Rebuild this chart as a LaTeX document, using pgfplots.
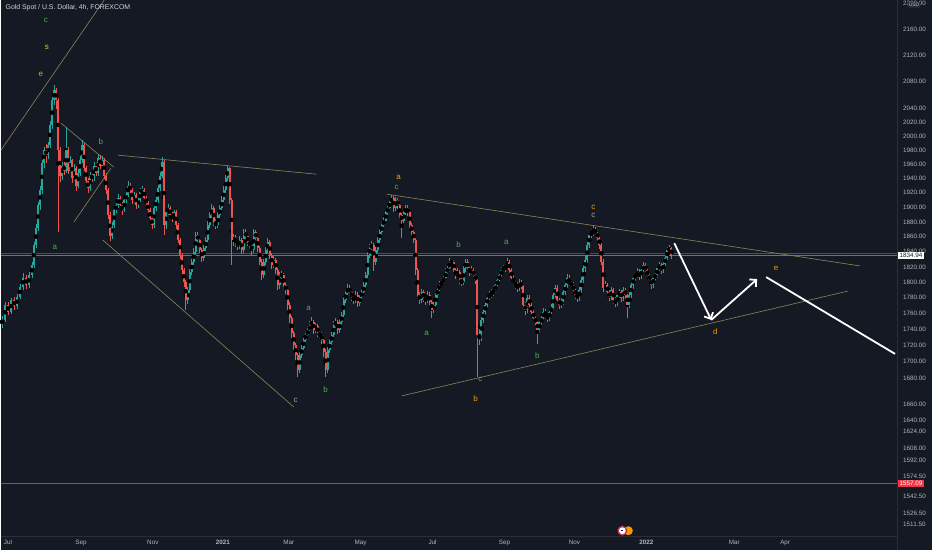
\documentclass[border=0pt]{standalone}
\usepackage{pgfplots}
\pgfplotsset{compat=1.18}
\usepackage{pgfplotstable}
\usepackage{fontspec}
\setmainfont{Liberation Sans}
\usetikzlibrary{arrows.meta}

\definecolor{bgc}{RGB}{21,25,36}
\definecolor{sepc}{RGB}{42,46,57}
\definecolor{txt}{RGB}{178,181,190}
\definecolor{upc}{RGB}{38,166,154}
\definecolor{dnc}{RGB}{239,83,80}
\definecolor{tl}{RGB}{140,132,92}
\definecolor{wgreen}{RGB}{76,175,80}
\definecolor{worange}{RGB}{255,152,0}
\definecolor{wgray}{RGB}{150,170,165}
\definecolor{wyel}{RGB}{200,210,60}
\definecolor{redline}{RGB}{190,55,75}
\definecolor{redbox}{RGB}{242,54,69}

% 4h candles, x in chart pixels
\pgfplotstableread{
x o h l c
0 1746 1757 1742 1752
3 1752 1775 1749 1771
6 1771 1774 1758 1762
9 1762 1780 1759 1777
12 1777 1781 1764 1769
15 1769 1785 1766 1781
18 1781 1798 1778 1794
21 1794 1812 1790 1806
24 1806 1809 1791 1796
27 1796 1813 1793 1809
30 1809 1826 1806 1822
32 1822 1853 1819 1849
34 1849 1877 1845 1872
36 1872 1908 1868 1903
38 1903 1930 1897 1924
40 1924 1966 1918 1961
42 1961 1985 1955 1980
44 1980 1988 1962 1973
46 1973 1992 1968 1987
48 1987 2022 1983 2016
50 2016 2058 2010 2052
52 2052 2075 2045 2067
54 2067 2070 2040 2052
56 2052 2055 1867 1980
58 1980 1985 1935 1944
60 1944 1963 1938 1958
62 1958 1966 1945 1951
64 1951 2013 1947 1980
66 1980 1984 1946 1951
68 1951 1972 1948 1966
70 1966 1968 1933 1940
72 1940 1960 1936 1954
74 1954 1957 1922 1930
76 1930 1953 1926 1948
78 1948 1971 1944 1966
80 1966 1994 1962 1987
82 1987 1990 1950 1954
84 1954 1958 1932 1937
86 1937 1941 1920 1926
88 1926 1949 1922 1944
90 1944 1950 1935 1940
92 1940 1963 1936 1958
94 1958 1962 1944 1948
96 1948 1974 1944 1969
98 1969 1973 1953 1958
100 1958 1972 1954 1966
102 1966 1969 1940 1944
104 1944 1947 1918 1924
106 1924 1927 1884 1889
108 1889 1893 1855 1861
110 1861 1880 1857 1876
112 1876 1900 1872 1896
114 1896 1908 1892 1903
116 1903 1918 1899 1913
118 1913 1916 1898 1903
120 1903 1907 1890 1896
122 1896 1914 1893 1910
124 1910 1922 1906 1917
126 1917 1936 1914 1930
128 1930 1934 1919 1924
130 1924 1927 1905 1910
132 1910 1921 1906 1917
134 1917 1920 1898 1903
136 1903 1915 1899 1910
138 1910 1927 1907 1921
140 1921 1930 1916 1924
142 1924 1927 1908 1913
144 1913 1916 1900 1906
146 1906 1909 1891 1896
148 1896 1899 1880 1885
150 1885 1888 1870 1876
152 1876 1903 1872 1899
154 1899 1914 1895 1910
156 1910 1931 1906 1926
158 1926 1949 1922 1944
160 1944 1970 1940 1963
162 1963 1966 1862 1876
164 1876 1897 1871 1893
166 1893 1904 1889 1899
168 1899 1902 1884 1889
170 1889 1893 1880 1885
172 1885 1897 1881 1893
174 1893 1896 1871 1876
176 1876 1879 1851 1856
178 1856 1859 1831 1836
180 1836 1839 1810 1816
182 1816 1819 1794 1800
184 1800 1803 1764 1777
186 1777 1794 1772 1790
188 1790 1817 1786 1813
190 1813 1831 1809 1827
192 1827 1845 1823 1840
194 1840 1867 1836 1862
196 1862 1866 1851 1856
198 1856 1859 1838 1842
200 1842 1845 1826 1832
202 1832 1849 1828 1845
204 1845 1860 1841 1856
206 1856 1881 1852 1876
208 1876 1894 1872 1889
210 1889 1904 1885 1899
212 1899 1902 1875 1880
214 1880 1884 1870 1876
216 1876 1893 1872 1889
218 1889 1903 1885 1899
220 1899 1915 1895 1910
222 1910 1929 1906 1924
224 1924 1945 1920 1940
226 1940 1958 1936 1954
228 1954 1956 1904 1910
230 1910 1913 1822 1856
232 1856 1864 1848 1858
234 1858 1862 1847 1853
236 1853 1857 1842 1848
238 1848 1861 1844 1856
240 1856 1859 1837 1842
242 1842 1870 1838 1866
244 1866 1870 1856 1861
246 1861 1864 1848 1853
248 1853 1857 1844 1849
250 1849 1852 1836 1842
252 1842 1871 1838 1866
254 1866 1869 1853 1858
256 1858 1861 1840 1845
258 1845 1848 1822 1827
260 1827 1830 1803 1809
262 1809 1831 1805 1827
264 1827 1846 1823 1842
266 1842 1858 1838 1853
268 1853 1856 1831 1836
270 1836 1839 1817 1822
272 1822 1834 1818 1829
274 1829 1832 1811 1816
276 1816 1819 1790 1796
278 1796 1813 1792 1809
280 1809 1815 1803 1809
282 1809 1812 1791 1796
284 1796 1800 1785 1790
286 1790 1793 1765 1771
288 1771 1774 1748 1754
290 1754 1757 1729 1735
292 1735 1738 1714 1720
294 1720 1723 1702 1708
296 1708 1711 1681 1690
298 1690 1712 1686 1708
300 1708 1721 1704 1717
302 1717 1731 1713 1727
304 1727 1738 1723 1733
306 1733 1744 1729 1739
308 1739 1750 1735 1745
310 1745 1755 1741 1749
312 1749 1752 1734 1739
314 1739 1748 1735 1744
316 1744 1747 1730 1735
318 1735 1739 1728 1733
320 1733 1736 1722 1727
322 1727 1730 1706 1712
324 1712 1715 1681 1690
326 1690 1718 1686 1714
328 1714 1728 1710 1724
330 1724 1737 1720 1733
332 1733 1750 1729 1745
334 1745 1754 1741 1749
336 1749 1752 1734 1739
338 1739 1753 1735 1749
340 1749 1762 1745 1758
342 1758 1781 1754 1777
344 1777 1791 1773 1786
346 1786 1798 1782 1793
348 1793 1797 1782 1787
350 1787 1791 1776 1781
352 1781 1785 1772 1777
354 1777 1789 1773 1784
356 1784 1787 1768 1773
358 1773 1785 1769 1781
360 1781 1792 1777 1787
362 1787 1800 1783 1796
364 1796 1813 1792 1809
366 1809 1841 1805 1836
368 1836 1850 1832 1845
370 1845 1855 1841 1849
372 1849 1852 1815 1827
374 1827 1846 1823 1842
376 1842 1860 1838 1856
378 1856 1871 1852 1866
380 1866 1881 1862 1876
382 1876 1887 1872 1882
384 1882 1898 1878 1893
386 1893 1904 1889 1899
388 1899 1912 1895 1907
390 1907 1917 1903 1913
392 1913 1916 1894 1899
394 1899 1914 1895 1910
396 1910 1913 1898 1903
398 1903 1906 1884 1889
400 1889 1892 1858 1882
402 1882 1897 1878 1893
404 1893 1903 1889 1899
406 1899 1903 1888 1893
408 1893 1896 1871 1876
410 1876 1879 1861 1866
412 1866 1869 1851 1856
414 1856 1859 1810 1816
416 1816 1819 1778 1784
418 1784 1788 1772 1777
420 1777 1792 1773 1787
422 1787 1790 1775 1780
424 1780 1784 1771 1777
426 1777 1789 1773 1784
428 1784 1787 1770 1775
430 1775 1778 1754 1764
432 1764 1775 1760 1771
434 1771 1788 1767 1784
436 1784 1794 1780 1790
438 1790 1801 1786 1796
440 1796 1805 1792 1800
442 1800 1811 1796 1806
444 1806 1818 1802 1813
446 1813 1823 1809 1818
448 1818 1832 1814 1827
450 1827 1831 1820 1827
452 1827 1829 1811 1816
454 1816 1819 1804 1809
456 1809 1818 1805 1813
458 1813 1816 1798 1803
460 1803 1806 1795 1800
462 1800 1822 1797 1818
464 1818 1831 1814 1827
466 1827 1830 1813 1818
468 1818 1822 1808 1813
470 1813 1821 1809 1816
472 1816 1819 1804 1809
474 1809 1812 1798 1803
476 1803 1806 1681 1733
478 1733 1740 1720 1730
480 1730 1756 1726 1752
482 1752 1766 1748 1762
484 1762 1775 1758 1771
486 1771 1784 1767 1780
488 1780 1789 1776 1784
490 1784 1791 1780 1786
492 1786 1795 1782 1790
494 1790 1800 1786 1796
496 1796 1807 1792 1803
498 1803 1813 1799 1809
500 1809 1820 1805 1816
502 1816 1823 1812 1818
504 1818 1826 1814 1822
506 1822 1832 1818 1827
508 1827 1829 1811 1816
510 1816 1819 1801 1806
512 1806 1809 1795 1800
514 1800 1803 1791 1796
516 1796 1800 1788 1793
518 1793 1804 1789 1799
520 1799 1803 1791 1796
522 1796 1799 1765 1771
524 1771 1774 1758 1764
526 1764 1784 1760 1780
528 1780 1783 1766 1771
530 1771 1774 1757 1762
532 1762 1765 1749 1754
534 1754 1758 1744 1749
536 1749 1752 1722 1739
538 1739 1753 1735 1749
540 1749 1758 1745 1754
542 1754 1767 1750 1762
544 1762 1766 1753 1758
546 1758 1761 1749 1754
548 1754 1766 1750 1762
550 1762 1772 1758 1767
552 1767 1789 1763 1784
554 1784 1797 1780 1793
556 1793 1796 1772 1777
558 1777 1780 1766 1771
560 1771 1780 1767 1775
562 1775 1792 1771 1787
564 1787 1800 1783 1796
566 1796 1811 1792 1806
568 1806 1809 1795 1800
570 1800 1804 1791 1796
572 1796 1800 1785 1790
574 1790 1793 1779 1784
576 1784 1788 1775 1780
578 1780 1794 1776 1790
580 1790 1807 1786 1803
582 1803 1822 1799 1818
584 1818 1834 1814 1829
586 1829 1853 1825 1849
588 1849 1867 1845 1862
590 1862 1871 1858 1866
592 1866 1876 1861 1869
594 1869 1873 1861 1866
596 1866 1869 1853 1858
598 1858 1861 1844 1849
600 1849 1852 1822 1827
602 1827 1830 1787 1793
604 1793 1801 1789 1796
606 1796 1799 1782 1787
608 1787 1790 1776 1781
610 1781 1794 1777 1790
612 1790 1793 1772 1777
614 1777 1781 1768 1773
616 1773 1788 1769 1784
618 1784 1792 1780 1787
620 1787 1790 1775 1780
622 1780 1794 1776 1790
624 1790 1793 1779 1784
626 1784 1787 1754 1771
628 1771 1788 1767 1784
630 1784 1800 1780 1796
632 1796 1810 1792 1806
634 1806 1814 1802 1809
636 1809 1818 1805 1813
638 1813 1817 1803 1808
640 1808 1821 1804 1816
642 1816 1827 1812 1822
644 1822 1825 1811 1816
646 1816 1819 1804 1809
648 1809 1812 1798 1803
650 1803 1806 1792 1797
652 1797 1810 1793 1806
654 1806 1814 1802 1809
656 1809 1823 1805 1818
658 1818 1827 1814 1822
660 1822 1825 1811 1816
662 1816 1829 1812 1824
664 1824 1837 1820 1832
666 1832 1847 1828 1842
668 1842 1849 1838 1845
670 1845 1847 1830 1834.94
}\candles

\begin{document}
\begin{tikzpicture}
\fill[bgc] (0,0) rectangle (932bp,550bp);
\draw[sepc, line width=0.8bp] (897bp,0) -- (897bp,550bp);
\draw[sepc, line width=0.8bp] (0,13bp) -- (897bp,13bp);
\begin{axis}[
    at={(0,13bp)}, anchor=south west,
    scale only axis, width=897bp, height=537bp,
    xmin=0, xmax=897,
    ymode=log, ymin=1498.3, ymax=2205.6,
    axis line style={draw=none},
    major tick length=0pt,
    clip mode=individual,
    xtick={7,80,152,222,288,360,432,504,574,646,734,785},
    xticklabels={Jul,Sep,Nov,\textbf{2021},Mar,May,Jul,Sep,Nov,\textbf{2022},Mar,Apr},
    xticklabel style={font=\fontsize{6.3bp}{7bp}\selectfont, text=txt, inner sep=0pt, anchor=north, yshift=-3.5bp},
    yticklabel pos=right,
    ytick={1511.3,1524.1,1542.4,1564.8,1583.7,1597.1,1616.3,1629.2,1648.9,1680,1700,1720,1740,1760,1780,1800,1820,1840,1860,1880,1900,1920,1940,1960,1980,2000,2020,2040,2080,2120,2160,2200},
    yticklabels={1511.50,1526.50,1542.50,1574.50,1592.00,1608.00,1624.00,1640.00,1660.00,1680.00,1700.00,1720.00,1740.00,1760.00,1780.00,1800.00,1820.00,1840.00,1860.00,1880.00,1900.00,1920.00,1940.00,1960.00,1980.00,2000.00,2020.00,2040.00,2080.00,2120.00,2160.00,2200.00},
    yticklabel style={font=\fontsize{6.3bp}{7bp}\selectfont, text=txt, inner sep=0pt, anchor=west, xshift=6bp},
]
% price lines
\addplot[draw={rgb,255:red,75;green,78;blue,88}, line width=0.5bp] coordinates {(0,1838.3) (897,1838.3)};
\addplot[draw={rgb,255:red,110;green,113;blue,122}, line width=0.5bp] coordinates {(0,1834.94) (897,1834.94)};
\addplot[draw=redline, line width=1.6bp] coordinates {(0,1557.09) (897,1557.09)};

% wicks
\addplot[only marks, mark=none, restrict expr to domain={\thisrow{c}-\thisrow{o}}{0:1000},
  error bars/.cd, y dir=both, y explicit, error mark=none,
  error bar style={draw=upc, line width=0.6bp}]
  table[x expr={\thisrow{x}+1}, y expr={(\thisrow{h}+\thisrow{l})/2},
        y error plus expr={(\thisrow{h}-\thisrow{l})/2},
        y error minus expr={(\thisrow{h}-\thisrow{l})/2}] {\candles};
\addplot[only marks, mark=none, restrict expr to domain={\thisrow{c}-\thisrow{o}}{-1000:-0.001},
  error bars/.cd, y dir=both, y explicit, error mark=none,
  error bar style={draw=dnc, line width=0.6bp}]
  table[x expr={\thisrow{x}+1}, y expr={(\thisrow{h}+\thisrow{l})/2},
        y error plus expr={(\thisrow{h}-\thisrow{l})/2},
        y error minus expr={(\thisrow{h}-\thisrow{l})/2}] {\candles};
% bodies
\addplot[only marks, mark=none, restrict expr to domain={\thisrow{c}-\thisrow{o}}{0:1000},
  error bars/.cd, y dir=both, y explicit, error mark=none,
  error bar style={draw=upc, line width=2bp}]
  table[x expr={\thisrow{x}+1}, y expr={(\thisrow{o}+\thisrow{c})/2},
        y error plus expr={abs(\thisrow{c}-\thisrow{o})/2},
        y error minus expr={abs(\thisrow{c}-\thisrow{o})/2}] {\candles};
\addplot[only marks, mark=none, restrict expr to domain={\thisrow{c}-\thisrow{o}}{-1000:-0.001},
  error bars/.cd, y dir=both, y explicit, error mark=none,
  error bar style={draw=dnc, line width=2bp}]
  table[x expr={\thisrow{x}+1}, y expr={(\thisrow{o}+\thisrow{c})/2},
        y error plus expr={abs(\thisrow{c}-\thisrow{o})/2},
        y error minus expr={abs(\thisrow{c}-\thisrow{o})/2}] {\candles};

% trend lines
\addplot[draw=tl, line width=0.6bp] coordinates {(0,1979.8) (110,2221.5)};
\addplot[draw=tl, line width=0.6bp] coordinates {(60,2018.7) (113,1955.7)};
\addplot[draw=tl, line width=0.6bp] coordinates {(73,1879.8) (110,1954.3)};
\addplot[draw=tl, line width=0.6bp] coordinates {(117,1972.7) (316,1945.9)};
\addplot[draw=tl, line width=0.6bp] coordinates {(102,1855.6) (293,1645.3)};
\addplot[draw=tl, line width=0.6bp] coordinates {(386,1918.1) (860,1821.2)};
\addplot[draw=tl, line width=0.6bp] coordinates {(401,1658.4) (848,1788.7)};

% projection arrows
\addplot[draw=white, line width=1.8bp, -{Straight Barb[angle=90:7bp]}] coordinates {(674,1851.6) (711,1751.7)};
\addplot[draw=white, line width=1.8bp, -{Straight Barb[angle=90:7bp]}] coordinates {(711,1751.7) (757,1804.2)};
\addplot[draw=white, line width=1.8bp] coordinates {(766,1806.8) (895,1709.4)};

% wave labels
\begin{scope}[every node/.style={font=\fontsize{8bp}{9bp}\selectfont, inner sep=0pt}]
\node[text=wgreen] at (axis cs:45,2174.0) {c};
\node[text=wyel] at (axis cs:46,2132.2) {s};
\node[text=worange] at (axis cs:40,2091.1) {e};
\node[text=wgreen] at (axis cs:100,1992.7) {b};
\node[text=wgreen] at (axis cs:54,1846.0) {a};
\node[text=wgray] at (axis cs:295,1653.6) {c};
\node[text=wgreen] at (axis cs:308,1766.9) {a};
\node[text=wgreen] at (axis cs:325,1665.6) {b};
\node[text=worange] at (axis cs:398,1941.7) {a};
\node[text=wgreen] at (axis cs:396,1927.8) {c};
\node[text=wgreen] at (axis cs:458,1850.2) {b};
\node[text=wgreen] at (axis cs:506,1852.9) {a};
\node[text=wgreen] at (axis cs:426,1735.4) {a};
\node[text=wgreen] at (axis cs:480,1677.7) {c};
\node[text=worange] at (axis cs:475,1654.9) {b};
\node[text=wgreen] at (axis cs:537,1706.9) {b};
\node[text=worange] at (axis cs:593,1899.9) {c};
\node[text=wgray] at (axis cs:593,1889.3) {c};
\node[text=worange] at (axis cs:715,1736.7) {d};
\node[text=worange] at (axis cs:776,1818.5) {e};
\end{scope}

% event marker
\fill[worange] (axis cs:628,1504.8) circle (4.5bp);
\fill[redline] (axis cs:622,1504.8) circle (5bp);
\fill[white] (axis cs:622,1504.8) circle (3.4bp);
\fill[blue!60!black] (axis cs:620.3,1506) rectangle (axis cs:622.4,1504.6);

% price boxes
\node[anchor=west, fill=white, text=bgc, inner sep=1.3bp, font=\fontsize{6.3bp}{7bp}\selectfont] at (axis cs:898,1834.94) {1834.94};
\node[anchor=west, fill=redbox, text=white, inner sep=1.3bp, font=\fontsize{6.3bp}{7bp}\selectfont] at (axis cs:898,1557.09) {1557.09};
\end{axis}
\node[anchor=north, fill=sepc, text=txt, inner sep=1bp, rounded corners=1bp, font=\fontsize{5bp}{6bp}\selectfont] at (914bp,548.5bp) {USD};
\node[anchor=west, text={rgb,255:red,209;green,212;blue,220}, inner sep=0pt, font=\fontsize{6.9bp}{8bp}\selectfont] at (4.5bp,542.7bp) {Gold Spot / U.S. Dollar, 4h, FOREXCOM};
\end{tikzpicture}
\end{document}
